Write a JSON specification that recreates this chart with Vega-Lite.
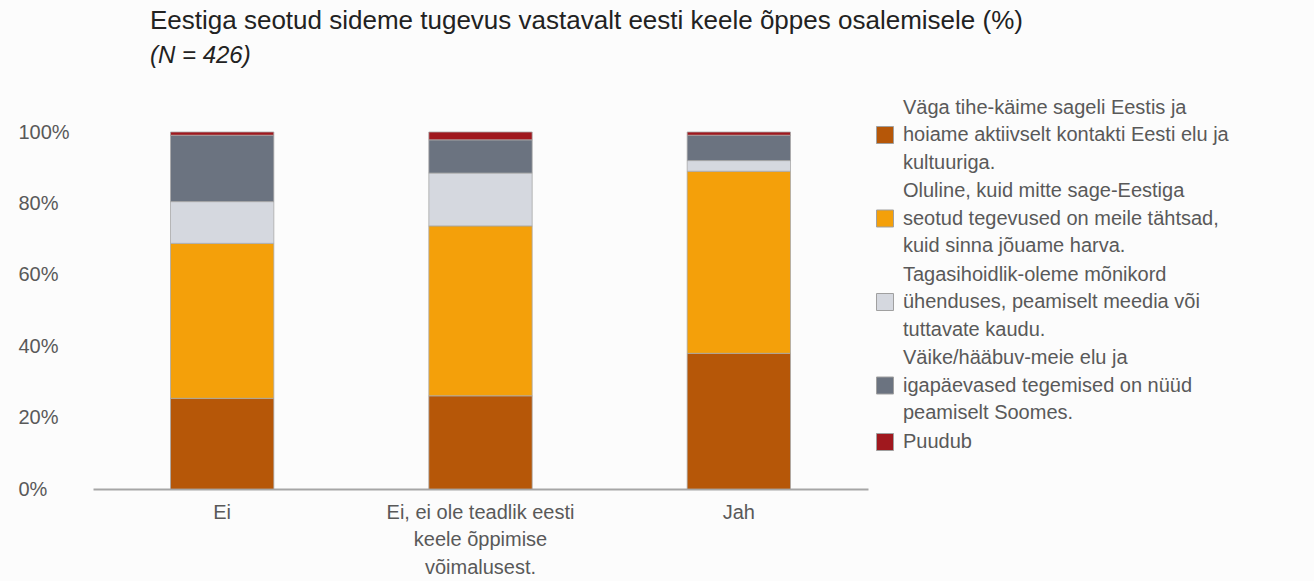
{
  "$schema": "https://vega.github.io/schema/vega-lite/v6.json",
  "autosize": {"type": "none"},
  "width": 775,
  "height": 357,
  "padding": {"left": 93, "top": 132, "right": 446, "bottom": 92},
  "background": "#fcfcfc",
  "title": {
    "text": "Eestiga seotud sideme tugevus vastavalt eesti keele õppes osalemisele (%)",
    "subtitle": "(N = 426)",
    "anchor": "start",
    "frame": "group",
    "dx": 57,
    "offset": 54,
    "font": "Liberation Sans",
    "fontSize": 26,
    "fontWeight": "normal",
    "color": "#222222",
    "subtitleFont": "Liberation Sans",
    "subtitleFontSize": 24,
    "subtitleFontStyle": "italic",
    "subtitleColor": "#222222",
    "subtitlePadding": 10
  },
  "data": {
    "values": [
      {"vastus": "Ei", "side": "Väga tihe-käime sageli Eestis ja hoiame aktiivselt kontakti Eesti elu ja kultuuriga.", "protsent": 25.4},
      {"vastus": "Ei", "side": "Oluline, kuid mitte sage-Eestiga seotud tegevused on meile tähtsad, kuid sinna jõuame harva.", "protsent": 43.4},
      {"vastus": "Ei", "side": "Tagasihoidlik-oleme mõnikord ühenduses, peamiselt meedia või tuttavate kaudu.", "protsent": 11.7},
      {"vastus": "Ei", "side": "Väike/hääbuv-meie elu ja igapäevased tegemised on nüüd peamiselt Soomes.", "protsent": 18.6},
      {"vastus": "Ei", "side": "Puudub", "protsent": 0.9},
      {"vastus": "Ei, ei ole teadlik eesti keele õppimise võimalusest.", "side": "Väga tihe-käime sageli Eestis ja hoiame aktiivselt kontakti Eesti elu ja kultuuriga.", "protsent": 26.1},
      {"vastus": "Ei, ei ole teadlik eesti keele õppimise võimalusest.", "side": "Oluline, kuid mitte sage-Eestiga seotud tegevused on meile tähtsad, kuid sinna jõuame harva.", "protsent": 47.6},
      {"vastus": "Ei, ei ole teadlik eesti keele õppimise võimalusest.", "side": "Tagasihoidlik-oleme mõnikord ühenduses, peamiselt meedia või tuttavate kaudu.", "protsent": 14.8},
      {"vastus": "Ei, ei ole teadlik eesti keele õppimise võimalusest.", "side": "Väike/hääbuv-meie elu ja igapäevased tegemised on nüüd peamiselt Soomes.", "protsent": 9.3},
      {"vastus": "Ei, ei ole teadlik eesti keele õppimise võimalusest.", "side": "Puudub", "protsent": 2.2},
      {"vastus": "Jah", "side": "Väga tihe-käime sageli Eestis ja hoiame aktiivselt kontakti Eesti elu ja kultuuriga.", "protsent": 38.0},
      {"vastus": "Jah", "side": "Oluline, kuid mitte sage-Eestiga seotud tegevused on meile tähtsad, kuid sinna jõuame harva.", "protsent": 51.0},
      {"vastus": "Jah", "side": "Tagasihoidlik-oleme mõnikord ühenduses, peamiselt meedia või tuttavate kaudu.", "protsent": 3.0},
      {"vastus": "Jah", "side": "Väike/hääbuv-meie elu ja igapäevased tegemised on nüüd peamiselt Soomes.", "protsent": 7.1},
      {"vastus": "Jah", "side": "Puudub", "protsent": 0.9}
    ]
  },
  "transform": [
    {"calculate": "indexof(['Väga tihe-käime sageli Eestis ja hoiame aktiivselt kontakti Eesti elu ja kultuuriga.', 'Oluline, kuid mitte sage-Eestiga seotud tegevused on meile tähtsad, kuid sinna jõuame harva.', 'Tagasihoidlik-oleme mõnikord ühenduses, peamiselt meedia või tuttavate kaudu.', 'Väike/hääbuv-meie elu ja igapäevased tegemised on nüüd peamiselt Soomes.', 'Puudub'], datum.side)", "as": "jarjekord"}
  ],
  "mark": {"type": "bar", "stroke": "#a8a8a8", "strokeWidth": 0.8},
  "encoding": {
    "x": {
      "field": "vastus",
      "type": "nominal",
      "sort": null,
      "title": null,
      "scale": {"paddingInner": 0.6, "paddingOuter": 0.3},
      "axis": {
        "labelAngle": 0,
        "labelExpr": "datum.label == 'Ei, ei ole teadlik eesti keele õppimise võimalusest.' ? ['Ei, ei ole teadlik eesti', 'keele õppimise', 'võimalusest.'] : datum.label",
        "labelFont": "Liberation Sans",
        "labelFontSize": 20,
        "labelColor": "#595959",
        "labelLineHeight": 27.5,
        "labelBaseline": "top",
        "labelPadding": 13,
        "ticks": false,
        "domainColor": "#a6a6a6",
        "domainWidth": 2,
        "labelLimit": 400
      }
    },
    "y": {
      "field": "protsent",
      "type": "quantitative",
      "stack": "normalize",
      "title": null,
      "scale": {"domain": [0, 1], "nice": false},
      "axis": {
        "values": [0, 0.2, 0.4, 0.6, 0.8, 1],
        "format": ".0%",
        "grid": false,
        "domain": false,
        "ticks": false,
        "labelAlign": "left",
        "labelPadding": 75,
        "labelFont": "Liberation Sans",
        "labelFontSize": 20,
        "labelColor": "#595959"
      }
    },
    "order": {"field": "jarjekord", "type": "quantitative", "sort": "ascending"},
    "color": {
      "field": "side",
      "type": "nominal",
      "sort": [
        "Väga tihe-käime sageli Eestis ja hoiame aktiivselt kontakti Eesti elu ja kultuuriga.",
        "Oluline, kuid mitte sage-Eestiga seotud tegevused on meile tähtsad, kuid sinna jõuame harva.",
        "Tagasihoidlik-oleme mõnikord ühenduses, peamiselt meedia või tuttavate kaudu.",
        "Väike/hääbuv-meie elu ja igapäevased tegemised on nüüd peamiselt Soomes.",
        "Puudub"
      ],
      "scale": {
        "domain": [
          "Väga tihe-käime sageli Eestis ja hoiame aktiivselt kontakti Eesti elu ja kultuuriga.",
          "Oluline, kuid mitte sage-Eestiga seotud tegevused on meile tähtsad, kuid sinna jõuame harva.",
          "Tagasihoidlik-oleme mõnikord ühenduses, peamiselt meedia või tuttavate kaudu.",
          "Väike/hääbuv-meie elu ja igapäevased tegemised on nüüd peamiselt Soomes.",
          "Puudub"
        ],
        "range": ["#B65708", "#F4A00A", "#D5D8DF", "#6B7380", "#A0181E"]
      },
      "legend": {
        "title": null,
        "orient": "none",
        "legendX": 782,
        "legendY": -7,
        "padding": 0,
        "rowPadding": 7.5,
        "symbolType": "square",
        "symbolSize": 289,
        "symbolStrokeColor": "#a0a0a0",
        "symbolStrokeWidth": 1,
        "labelOffset": 8,
        "labelFont": "Liberation Sans",
        "labelFontSize": 20,
        "labelColor": "#595959",
        "labelLimit": 500,
        "labelExpr": "indexof(datum.label, 'Väga tihe') == 0 ? ['Väga tihe-käime sageli Eestis ja', 'hoiame aktiivselt kontakti Eesti elu ja', 'kultuuriga.'] : indexof(datum.label, 'Oluline') == 0 ? ['Oluline, kuid mitte sage-Eestiga', 'seotud tegevused on meile tähtsad,', 'kuid sinna jõuame harva.'] : indexof(datum.label, 'Tagasihoidlik') == 0 ? ['Tagasihoidlik-oleme mõnikord', 'ühenduses, peamiselt meedia või', 'tuttavate kaudu.'] : indexof(datum.label, 'Väike') == 0 ? ['Väike/hääbuv-meie elu ja', 'igapäevased tegemised on nüüd', 'peamiselt Soomes.'] : datum.label",
        "encode": {
          "labels": {
            "update": {
              "dy": {"signal": "datum.value === 'Puudub' ? 0 : -27.5"}
            }
          }
        }
      }
    }
  },
  "config": {
    "view": {"stroke": null},
    "style": {"guide-label": {"lineHeight": 27.5}}
  }
}
